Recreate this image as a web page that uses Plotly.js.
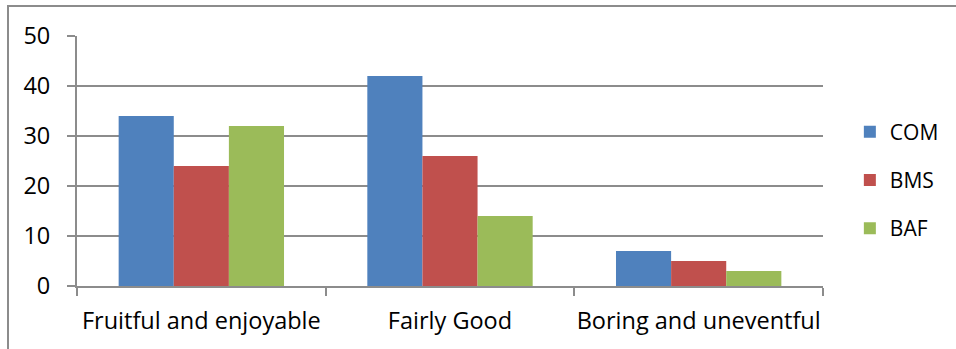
<!DOCTYPE html>
<html>
<head>
<meta charset="utf-8">
<script src="https://cdn.plot.ly/plotly-3.0.1.min.js"></script>
<style>
html,body{margin:0;padding:0;background:#fff;}
#wrap{position:relative;width:956px;height:349px;}
#chart{width:956px;height:349px;}
#frame{position:absolute;left:7px;top:5px;width:960px;height:360px;border-left:2px solid #8c8c8c;border-top:2px solid #8c8c8c;pointer-events:none;}
</style>
</head>
<body>
<div id="wrap"><div id="chart"></div><div id="frame"></div></div>
<script>
const categories = ["Fruitful and enjoyable", "Fairly Good", "Boring and uneventful"];
const seriesNames = ["COM", "BMS", "BAF"];
const comValues = [34, 42, 7];
const bmsValues = [24, 26, 5];
const bafValues = [32, 14, 3];
const yTicks = [0, 10, 20, 30, 40, 50];

const colors = ["#4f81bd", "#c0504d", "#9bbb59"];
const allValues = [comValues, bmsValues, bafValues];
const tickFont = {family: "'Open Sans', sans-serif", size: 23.5, color: "#000"};
const legendFont = {family: "'Open Sans', sans-serif", size: 21, color: "#000"};

const traces = allValues.map((vals, i) => ({
  type: "bar",
  name: seriesNames[i],
  x: categories,
  y: vals,
  marker: {color: colors[i], line: {width: 0}},
  legendgroup: "g" + i,
  hoverinfo: "skip"
}));

const layout = {
  width: 956, height: 349,
  margin: {l: 77, r: 133, t: 36, b: 63, pad: 0},
  paper_bgcolor: "#fff", plot_bgcolor: "#fff",
  font: tickFont,
  barmode: "group",
  bargap: 0.335,
  bargroupgap: 0,
  showlegend: true,
  legend: {
    x: 1.036, xanchor: "left", y: 0.424, yanchor: "middle",
    font: legendFont, traceorder: "grouped", tracegroupgap: 18,
    itemwidth: 30
  },
  xaxis: {
    type: "category",
    showgrid: false,
    showline: true, linecolor: "#8c8c8c", linewidth: 2,
    ticks: "outside", ticklen: 8, tickcolor: "#8c8c8c", tickwidth: 2,
    tickson: "boundaries",
    tickangle: 0,
    ticklabelstandoff: 13,
    tickfont: tickFont,
    fixedrange: true
  },
  yaxis: {
    range: [0, 50],
    tickvals: yTicks,
    showgrid: true, gridcolor: "#8c8c8c", gridwidth: 2,
    showline: true, linecolor: "#8c8c8c", linewidth: 2,
    ticks: "outside", ticklen: 8, tickcolor: "#8c8c8c", tickwidth: 2,
    zeroline: false,
    tickfont: tickFont,
    ticklabelstandoff: 12,
    fixedrange: true
  }
};

Plotly.newPlot("chart", traces, layout, {displayModeBar: false, staticPlot: true});
</script>
</body>
</html>
